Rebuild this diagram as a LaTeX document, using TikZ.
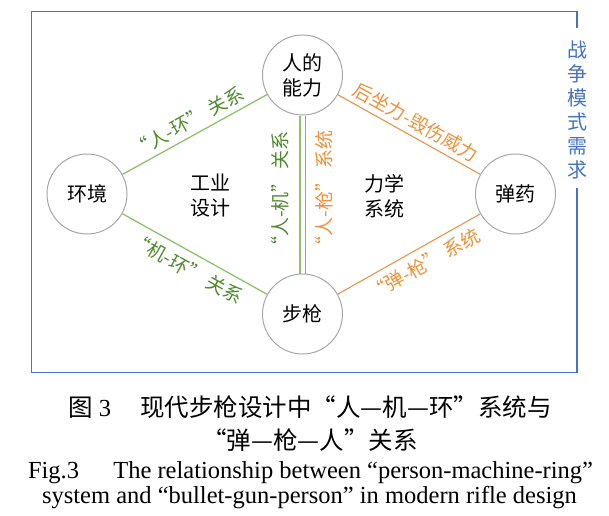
\documentclass[tikz,border=0pt]{standalone}
\usepackage{fontspec}
\setmainfont{Liberation Serif}
\newfontfamily\cjk{Noto Sans CJK SC}
\definecolor{cGL}{HTML}{8DC26B}
\definecolor{cGT}{HTML}{4E8A2E}
\definecolor{cOL}{HTML}{EE8A3C}
\definecolor{cOT}{HTML}{F0913A}
\definecolor{cBlue}{HTML}{4472C4}
\definecolor{cGray}{HTML}{A6A6A6}
\begin{document}
\begin{tikzpicture}[x=1pt,y=-1pt,
  circ/.style={circle, draw=cGray, line width=1pt, minimum size=80pt, inner sep=0pt,
    font=\cjk\fontsize{20}{25}\selectfont, align=center},
  inlab/.style={font=\cjk\fontsize{20}{25}\selectfont, align=center, inner sep=0pt},
  gl/.style={draw=cGL, line width=1.3pt},
  ol/.style={draw=cOL, line width=1pt},
  glab/.style={inner sep=0pt, text=cGT, font=\cjk\fontsize{19}{19}\selectfont},
  olab/.style={inner sep=0pt, text=cOT, font=\cjk\fontsize{19}{19}\selectfont},
  captxt/.style={anchor=base, inner sep=0pt, font=\fontsize{24.5}{25}\selectfont}
]
\useasboundingbox (0,0) rectangle (609,515);
% frame
\draw[cBlue, line width=1.2pt] (577,28) -- (577,11.7) -- (31.7,11.7) -- (31.7,372.7) -- (577,372.7) -- (577,188);
\node[text=cBlue, font=\cjk\fontsize{20}{24}\selectfont, align=center, inner sep=0pt] (war) at (577,110) {战\\争\\模\\式\\需\\求};
% circles
\node[circ] (A) at (302.5,75) {人的\\能力};
\node[circ] (B) at (87,194) {环境};
\node[circ] (C) at (515.5,194) {弹药};
\node[circ] (D) at (302.5,314) {步枪};
% connectors
\draw[gl] (B) -- (A) node[midway, sloped, above=5pt, glab] {“人-环” 关系};
\draw[gl] (B) -- (D) node[midway, sloped, below=7pt, glab] {“机-环” 关系};
\draw[ol] (A) -- (C) node[midway, sloped, above=5pt, olab] {后坐力-毁伤威力};
\draw[ol] (D) -- (C) node[pos=0.55, sloped, below=7pt, olab] {“弹-枪” 系统};
\draw[gl] ([xshift=-2.5pt]A.south) -- ([xshift=-2.5pt]D.north);
\draw[ol] ([xshift=2.5pt]A.south) -- ([xshift=2.5pt]D.north);
\node[glab, rotate=90] (lg) at (280,193.5) {“人-机” 关系};
\node[olab, rotate=90] (lo) at (324,193) {“人-枪” 系统};
% inner texts
\node[inlab] (ti) at (210,196) {工业\\设计};
\node[inlab] (tm) at (384,196) {力学\\系统};
% caption
\node[captxt] (cap1) at (310,416) {{\cjk 图}~3\hspace{1.2em}{\cjk 现代步枪设计中“人—机—环”系统与}};
\node[captxt] (cap2) at (310,449) {{\cjk “弹—枪—人”关系}};
\node[captxt] (cap3) at (310.5,478) {Fig.3\hspace{1.4em}The relationship between “person-machine-ring”};
\node[captxt] (cap4) at (309.5,503) {system and “bullet-gun-person” in modern rifle design};
\end{tikzpicture}
\end{document}
